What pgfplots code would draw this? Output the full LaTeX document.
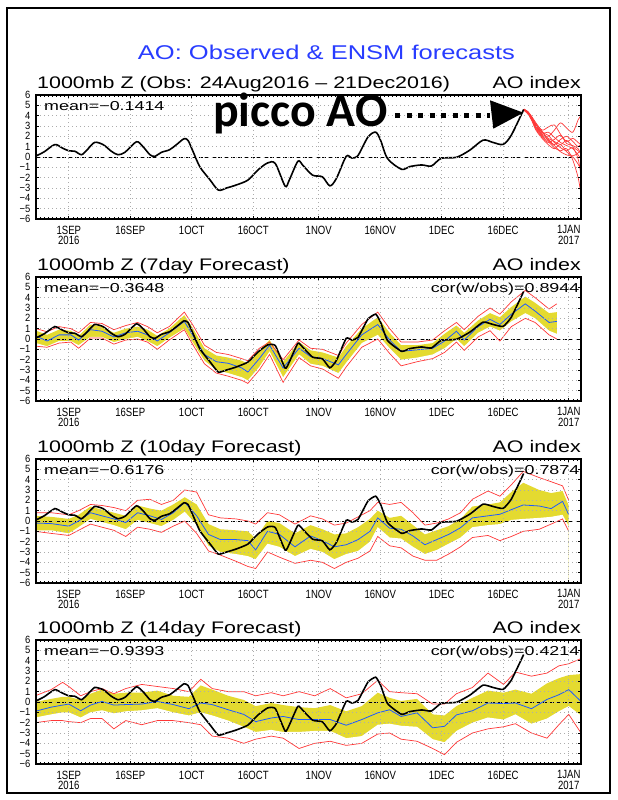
\documentclass[border=0pt]{standalone}
\usepackage{fontspec}
\setmainfont{Liberation Sans}
\newfontfamily\gtitle[FakeStretch=1.28]{Liberation Sans}
\newfontfamily\gmean[FakeStretch=1.38]{Liberation Sans}
\newfontfamily\gtick[FakeStretch=0.8]{Liberation Sans}
\newfontfamily\gytick[FakeStretch=0.9]{Liberation Sans}
\newfontfamily\piccofont{Carlito}
\usepackage{pgfplots}
\pgfplotsset{compat=1.18}
\usepackage{pgfplotstable}

\definecolor{bandyellow}{RGB}{228,218,48}
\definecolor{redl}{RGB}{255,55,55}
\definecolor{bluel}{RGB}{30,90,255}
\definecolor{titleblue}{RGB}{40,60,255}

% observed AO (day 0 = 1 Sep 2016)
\pgfplotstableread{
d y
-8 0.1
-6 0.5
-3.4 1.2
-1.5 0.85
0 0.6
1.5 0.55
3.1 0.22
4.5 0.7
6.3 1.41
8.4 1.19
10.4 0.55
12.0 0.22
13.7 0.45
16.5 1.47
18.1 1.0
19.8 0.22
21 0.06
22.6 0.45
24.6 0.7
26.3 1.2
28.1 1.76
29.1 1.6
30.3 0.55
32 -0.96
34.4 -2.18
36.5 -3.2
38.5 -3.0
40.8 -2.72
43.7 -2.24
46.1 -1.28
48.5 -0.58
50.4 -0.64
52.8 -2.82
53.8 -2.24
55.9 -0.42
57.1 -0.8
59.5 -1.76
61.9 -1.92
63.7 -2.79
65.3 -2.08
67.7 0.06
69.1 -0.1
70.6 0.16
73 1.92
74.9 2.4
76.1 1.6
77.8 -0.16
81.2 -1.19
83.2 -0.93
86.1 -0.77
88.5 -0.87
90.9 -0.13
94.6 -0.03
97.9 0.67
101.1 1.63
103.5 1.41
106 1.22
108 2.12
111 4.59
}\obs

% ensemble members after 21 Dec
\pgfplotstableread{
d a b c e f g h i j k
111 4.6 4.6 4.6 4.6 4.6 4.6 4.6 4.6 4.6 4.6
112 4.3 4.35 4.2 4.4 4.25 4.3 4.4 4.2 4.3 4.35
113 3.7 3.8 3.6 3.9 3.5 3.7 3.8 3.6 3.7 3.8
114 3.0 3.1 2.8 3.3 2.6 3.0 3.2 2.7 2.9 3.1
115.5 2.2 2.4 2.0 2.6 1.8 2.3 2.5 1.9 2.1 2.4
117 2.0 1.8 1.5 2.9 1.2 2.4 1.6 1.4 1.7 2.1
118.5 2.6 1.5 0.9 3.1 0.8 1.9 1.1 1.7 1.2 1.4
120 3.3 1.2 0.6 2.2 1.2 1.4 0.5 2.1 1.7 0.9
121.5 2.8 1.6 0.8 1.5 0.5 1.1 0.2 1.3 2.0 0.6
123 2.4 1.0 -0.3 1.8 0.1 0.8 0.0 1.1 1.5 0.9
124.3 3.6 0.6 -2.0 1.4 0.4 0.2 -0.7 0.8 1.0 -0.2
125 4.0 0.4 -3.6 1.2 0.6 -0.2 -1.2 0.2 1.3 -1.8
}\ens

% 7-day forecast
\pgfplotstableread{
d m lo hi rl rh
-8 0.3 -0.4 0.8 -0.7 1.0
-5.3 -0.2 -0.7 0.4 -0.8 0.7
-2.4 0.4 -0.2 0.9 -0.4 1.2
0.5 0.4 -0.2 0.8 -0.3 1.0
2.4 -0.1 -0.6 0.3 -0.9 0.6
5.3 0.9 0.2 1.4 0.1 1.6
8.1 0.75 0.2 1.2 0.1 1.5
11 0.2 -0.3 0.6 -0.5 0.9
13.9 0.6 0.0 1.0 -0.1 1.3
16.8 0.75 0.2 1.2 0.0 1.6
19.2 0.4 -0.2 0.9 -0.3 1.2
21.6 -0.2 -0.7 0.3 -1.0 0.6
24.5 0.6 0.1 1.0 -0.1 1.2
28.2 1.7 1.0 2.3 0.9 2.6
30.2 0.4 -0.3 1.1 -0.5 1.4
33.1 -1.5 -2.1 -0.9 -2.4 -0.6
36 -2.2 -3.0 -1.6 -3.3 -1.3
38.9 -2.35 -3.3 -1.8 -3.6 -1.5
42.2 -2.8 -3.7 -2.1 -4.0 -1.9
43.7 -3.2 -4.0 -2.4 -4.3 -2.1
46.5 -1.9 -2.7 -1.1 -3.0 -0.9
49 -0.6 -1.2 -0.1 -1.5 -0.3
52.3 -2.8 -3.7 -2.2 -4.2 -2.0
56.2 -0.9 -1.5 -0.3 -1.8 -0.1
59 -1.7 -2.4 -1.1 -2.6 -0.9
61.9 -1.9 -2.6 -1.3 -2.9 -1.0
65.8 -2.5 -3.3 -1.8 -3.8 -1.6
67.7 -1.5 -2.3 -0.7 -2.7 -0.4
71.5 0.4 -0.4 1.0 -0.8 1.4
75.4 1.4 0.4 2.1 0.0 2.6
78.3 -0.1 -0.9 0.6 -1.4 1.0
81.1 -1.2 -2.0 -0.6 -2.6 -0.3
85 -1.05 -1.8 -0.6 -2.2 -0.3
88.8 -0.9 -1.5 -0.4 -1.9 -0.1
91.7 -0.2 -0.9 0.5 -1.3 0.8
94.6 0.75 0.0 1.3 -0.3 1.6
96.5 -0.1 -0.7 0.6 -1.1 0.9
99.9 1.2 0.6 1.8 0.2 2.2
102.8 1.9 1.2 2.5 0.8 3.0
105.2 1.4 0.8 2.1 -0.2 2.4
108 2.4 1.7 3.1 1.2 3.6
111.4 3.4 2.5 4.1 2.0 4.7
113.8 2.7 2.0 3.5 1.6 4.0
117.2 1.6 0.8 2.5 0.4 2.9
119.1 1.7 0.5 2.6 0.0 3.4
}\fseven

% 10-day forecast
\pgfplotstableread{
d m lo hi rl rh
-8.2 -0.2 -0.9 0.5 -1.0 0.8
-4.3 -0.25 -0.9 0.4 -1.2 0.8
0 -0.5 -1.2 0.2 -1.4 0.6
2.4 0.0 -0.6 0.6 -0.9 1.0
5.3 0.8 0.2 1.4 -0.3 1.6
8.1 0.5 -0.1 1.1 -0.6 1.5
11 0.2 -0.4 0.8 -0.9 1.3
13.9 -0.15 -0.8 0.5 -1.5 1.0
16.8 0.8 0.1 1.5 -0.6 2.0
19.8 0.5 -0.2 1.2 -0.8 2.1
22.6 0.15 -0.5 1.0 -1.1 1.6
25.5 0.8 0.1 1.6 -0.5 2.0
28.3 1.8 0.9 2.3 0.0 3.0
31.2 0.5 -0.4 1.6 -1.2 2.8
34.1 -1.3 -2.4 -0.3 -2.9 0.6
37 -1.8 -3.0 -0.8 -3.3 0.3
40.8 -1.8 -3.2 -0.9 -3.9 0.2
43.7 -1.9 -3.4 -1.0 -4.4 0.0
45.6 -2.8 -3.7 -1.7 -4.6 -0.3
48.5 -1.0 -2.2 0.0 -3.0 0.8
51.4 -1.3 -2.5 -0.2 -3.5 0.6
55.2 -2.5 -3.4 -1.2 -4.1 -0.3
59 -1.45 -2.7 -0.4 -3.8 0.5
61.9 -1.9 -3.0 -0.8 -4.0 0.2
64.8 -2.5 -3.7 -1.3 -4.6 -0.4
67.7 -2.3 -3.2 -1.2 -4.0 -0.2
70.6 -1.8 -2.9 -0.6 -3.6 0.4
73.5 -1.0 -2.0 0.2 -2.9 1.0
75.4 0.3 -0.6 1.0 -1.5 1.8
78.3 -0.7 -1.6 0.3 -2.4 1.6
81.1 -0.8 -1.7 0.5 -2.6 1.8
84 -1.45 -2.5 -0.4 -3.4 0.8
86.9 -2.3 -3.2 -1.3 -3.8 -0.4
89.8 -1.8 -2.8 -0.9 -3.8 -0.2
92.7 -1.3 -2.2 -0.5 -3.2 0.2
95.6 -0.65 -1.6 0.2 -2.5 0.8
98.5 0.3 -0.6 1.4 -1.6 2.1
102.3 0.5 -0.4 1.6 -1.4 2.9
105.2 0.65 -0.3 1.8 -1.9 2.4
108 1.1 0.1 2.8 -1.5 3.5
110.9 1.55 0.2 3.7 -1.0 4.8
114.8 1.45 0.3 3.0 -0.8 4.2
117.7 1.2 0.4 2.7 -0.3 3.8
120.5 1.9 0.6 2.9 0.2 3.4
122 0.6 -0.5 1.5 -1.0 2.0
}\ften

% 14-day forecast
\pgfplotstableread{
d m lo hi rl rh
-8.2 -0.9 -1.5 0.0 -2.0 0.6
-4.3 -0.5 -1.2 0.3 -1.8 1.2
-1.5 -0.3 -1.0 0.5 -1.8 1.9
0 -0.2 -1.0 0.5 -1.9 1.5
2.9 -0.85 -1.5 0.2 -2.0 0.6
5.3 -0.3 -1.0 0.8 -1.6 1.0
8.1 0.05 -0.8 1.2 -1.6 1.3
11 -0.3 -1.1 0.8 -2.6 0.8
13.9 -0.25 -0.9 0.9 -1.8 1.3
17.8 -0.2 -0.8 0.9 -2.2 1.7
21.6 0.05 -0.6 1.1 -1.8 1.5
25.5 -0.25 -1.0 0.6 -1.8 1.3
29.3 -0.65 -1.3 0.5 -2.0 1.0
32.2 -0.1 -1.0 1.6 -2.2 2.2
35 -0.25 -1.3 1.2 -3.3 1.3
38.9 -0.75 -1.8 0.6 -3.5 1.0
42.7 -1.2 -2.4 0.2 -4.0 1.0
45.6 -1.9 -2.9 -0.4 -3.6 0.6
49.4 -1.55 -2.7 -0.1 -3.3 0.9
52.3 -1.4 -2.9 -0.3 -3.5 0.6
56.2 -1.7 -2.9 -0.5 -4.5 1.0
60 -1.7 -2.8 -0.6 -4.0 0.6
63.8 -1.7 -2.8 -0.3 -3.8 1.3
67.7 -2.25 -3.5 -0.9 -4.2 0.4
71.5 -1.7 -3.3 -0.4 -4.0 0.8
75.4 -1.05 -2.2 0.9 -3.1 2.1
78.3 -0.75 -2.1 0.4 -3.0 1.0
81.1 -1.4 -2.3 0.1 -3.6 0.9
85 -1.05 -2.4 0.3 -3.8 0.8
88.8 -2.5 -3.6 -1.2 -4.5 -0.2
91.7 -2.35 -3.9 -1.3 -5.1 -0.2
94.6 -1.25 -2.8 -0.4 -3.9 0.8
98.5 -0.85 -2.0 0.4 -3.0 1.4
102.3 -0.1 -1.5 1.1 -2.6 2.8
106.1 -0.15 -1.7 0.9 -2.4 1.7
109 -0.1 -1.2 1.2 -2.1 2.9
112.9 -0.65 -2.1 0.8 -3.0 2.5
116.7 0.25 -1.6 1.8 -3.5 2.8
119.6 0.7 -0.9 2.3 -2.2 3.5
122 1.2 -0.4 2.6 -1.2 3.7
125 0.05 -1.3 2.7 -3.0 4.2
}\ffourteen

\pgfplotsset{
  aopanel/.style={
    scale only axis, width=545bp, height=124bp, anchor=north west,
    xmin=-8, xmax=125, ymin=-6, ymax=6,
    enlargelimits=false,
    axis on top,
    ytick={-6,...,6},
    yticklabels={−6,−5,−4,−3,−2,−1,0,1,2,3,4,5,6},
    xtick={0,15,30,45,61,76,91,106,122},
    xticklabels={{1SEP\\2016},{16SEP},{1OCT},{16OCT},{1NOV},{16NOV},{1DEC},{16DEC},{1JAN\\2017}},
    minor xtick={-8,-7,...,125},
    xticklabel style={font=\gtick\fontsize{12}{11}\selectfont, align=center, inner sep=0pt, yshift=-6.5bp},
    yticklabel style={font=\gytick\fontsize{10.5}{10}\selectfont, inner sep=0pt, xshift=-5.5bp},
    tick align=inside, xtick pos=both, ytick pos=both,
    major tick length=3bp, minor tick length=1.8bp,
    tick style={black, line width=0.6bp},
    grid=major,
    grid style={gray!65, dash pattern=on 1.4bp off 2.6bp, line width=0.6bp},
    axis line style={line width=1.5bp},
  },
  obsl/.style={black, line width=1.6bp},
  zerol/.style={black, line width=0.9bp, dash pattern=on 4bp off 2.5bp},
  redline/.style={redl, line width=0.7bp},
  blueline/.style={bluel, line width=0.8bp},
}

\newcommand{\fcpanel}[2]{%
\begin{axis}[aopanel, at={(36bp,#1bp)}]
\addplot[fill=bandyellow, draw=none] table[x=d,y=hi]{#2} |- (axis cs:-8,-7) -- cycle;
\addplot[fill=white, draw=none] table[x=d,y=lo]{#2} |- (axis cs:-8,-7) -- cycle;
\addplot[zerol] coordinates {(-8,0) (125,0)};
\addplot[redline] table[x=d,y=rh]{#2};
\addplot[redline] table[x=d,y=rl]{#2};
\addplot[blueline] table[x=d,y=m]{#2};
\addplot[obsl, smooth, tension=0.3] table[x=d,y=y]{\obs};
\end{axis}}

\begin{document}
\begin{tikzpicture}[x=1bp,y=1bp]
\path[use as bounding box] (0,0) rectangle (618,800);
\draw[line width=1.2bp] (7,7) rectangle (610,792);

\node[anchor=base, inner sep=0, text=titleblue, font=\gtitle\fontsize{20}{20}\selectfont] at (326.5,740) {AO: Observed \& ENSM forecasts};

% Panel 1
\begin{axis}[aopanel, at={(36bp,705bp)}]
\addplot[zerol] coordinates {(-8,0) (125,0)};
\addplot[redline, smooth] table[x=d,y=a]{\ens};
\addplot[redline, smooth] table[x=d,y=b]{\ens};
\addplot[redline, smooth] table[x=d,y=c]{\ens};
\addplot[redline, smooth] table[x=d,y=e]{\ens};
\addplot[redline, smooth] table[x=d,y=f]{\ens};
\addplot[redline, smooth] table[x=d,y=g]{\ens};
\addplot[redline, smooth] table[x=d,y=h]{\ens};
\addplot[redline, smooth] table[x=d,y=i]{\ens};
\addplot[redline, smooth] table[x=d,y=j]{\ens};
\addplot[redline, smooth] table[x=d,y=k]{\ens};
\addplot[redl, line width=2bp] coordinates {(111,4.6) (112,4.3) (113,3.75)};
\addplot[obsl, smooth] table[x=d,y=y]{\obs};
\end{axis}

% Panels 2-4
\fcpanel{523}{\fseven}
\fcpanel{341}{\ften}
\fcpanel{160}{\ffourteen}

% panel titles
\foreach \yb/\txt in {711/{1000mb Z (Obs: 24Aug2016 – 21Dec2016)}, 529/{1000mb Z (7day Forecast)}, 347/{1000mb Z (10day Forecast)}, 166/{1000mb Z (14day Forecast)}}{
  \node[anchor=base west, inner sep=0, font=\gtitle\fontsize{16.8}{16.8}\selectfont] at (37,\yb) {\txt};
  \node[anchor=base east, inner sep=0, font=\gtitle\fontsize{16.8}{16.8}\selectfont] at (581,\yb) {AO index};
}
\foreach \yb/\mn/\cor in {689.5/0.1414/{}, 507.5/0.3648/{cor(w/obs)=0.8944}, 325.5/0.6176/{cor(w/obs)=0.7874}, 144.5/0.9393/{cor(w/obs)=0.4214}}{
  \node[anchor=base west, inner sep=0, font=\gmean\fontsize{13}{13}\selectfont] at (44,\yb) {mean=−\mn};
  \node[anchor=base east, inner sep=0, font=\gmean\fontsize{13}{13}\selectfont] at (579.5,\yb) {\cor};
}

% annotation
\node[anchor=base west, inner sep=0, font=\piccofont\bfseries\fontsize{48}{48}\selectfont] at (213,673) {picco AO};
\draw[line width=5.5bp, dash pattern=on 5bp off 6.5bp] (395,684.7) -- (490,684.7);
\fill[black] (490,699.7) -- (523.3,687.3) -- (493.3,671.3) -- cycle;
\end{tikzpicture}
\end{document}
